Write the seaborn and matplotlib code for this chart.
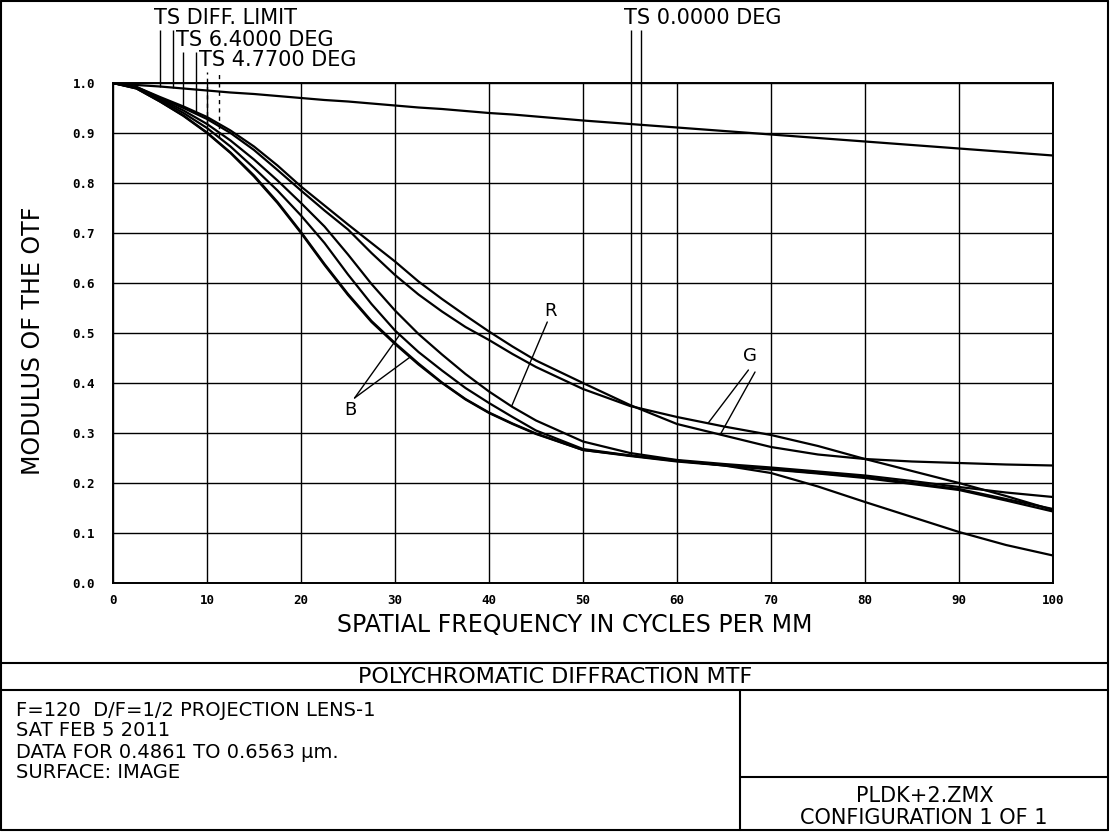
import numpy as np
import pandas as pd
import matplotlib
matplotlib.use("Agg")
import matplotlib.pyplot as plt
import seaborn as sns
from matplotlib.lines import Line2D

# ---------------- data ----------------
freq = [0, 2.5, 5, 7.5, 10, 12.5, 15, 17.5, 20, 22.5, 25, 27.5, 30, 32.5, 35, 37.5,
        40, 42.5, 45, 50, 55, 60, 65, 70, 75, 80, 85, 90, 95, 100]

diff_limit = [1.0, 0.996, 0.993, 0.989, 0.985, 0.981, 0.978, 0.974, 0.970, 0.966, 0.963,
              0.959, 0.955, 0.951, 0.948, 0.944, 0.940, 0.937, 0.933, 0.925, 0.918,
              0.911, 0.904, 0.897, 0.890, 0.883, 0.876, 0.869, 0.862, 0.855]

curve_g1 = [1.0, 0.992, 0.970, 0.950, 0.928, 0.900, 0.866, 0.826, 0.785, 0.745, 0.707,
            0.660, 0.616, 0.577, 0.543, 0.512, 0.486, 0.458, 0.432, 0.388, 0.354,
            0.332, 0.313, 0.296, 0.274, 0.248, 0.224, 0.200, 0.174, 0.146]

curve_g2 = [1.0, 0.992, 0.972, 0.953, 0.932, 0.905, 0.873, 0.835, 0.793, 0.755, 0.717,
            0.680, 0.643, 0.603, 0.568, 0.535, 0.503, 0.473, 0.445, 0.400, 0.356,
            0.318, 0.295, 0.272, 0.257, 0.248, 0.243, 0.240, 0.237, 0.235]

curve_r = [1.0, 0.991, 0.968, 0.945, 0.918, 0.885, 0.847, 0.805, 0.760, 0.713, 0.657,
           0.598, 0.545, 0.498, 0.457, 0.418, 0.383, 0.352, 0.325, 0.283, 0.260,
           0.246, 0.238, 0.231, 0.223, 0.215, 0.204, 0.192, 0.181, 0.172]

curve_b2 = [1.0, 0.990, 0.966, 0.940, 0.910, 0.873, 0.830, 0.785, 0.735, 0.680, 0.617,
            0.558, 0.505, 0.462, 0.425, 0.390, 0.360, 0.332, 0.305, 0.268, 0.255,
            0.244, 0.236, 0.228, 0.220, 0.212, 0.200, 0.188, 0.168, 0.148]

curve_b1 = [1.0, 0.989, 0.963, 0.934, 0.900, 0.860, 0.813, 0.760, 0.700, 0.636, 0.576,
            0.522, 0.478, 0.437, 0.400, 0.367, 0.340, 0.318, 0.298, 0.266, 0.255,
            0.245, 0.235, 0.220, 0.193, 0.162, 0.132, 0.102, 0.076, 0.055]

curve_b3 = [1.0, 0.989, 0.963, 0.935, 0.901, 0.861, 0.815, 0.762, 0.702, 0.638, 0.578,
            0.524, 0.480, 0.439, 0.401, 0.368, 0.341, 0.319, 0.299, 0.266, 0.254,
            0.243, 0.235, 0.227, 0.219, 0.210, 0.198, 0.186, 0.165, 0.143]

x_ticks = [0, 10, 20, 30, 40, 50, 60, 70, 80, 90, 100]
x_tick_labels = ["0", "10", "20", "30", "40", "50", "60", "70", "80", "90", "100"]
y_ticks = [0.0, 0.1, 0.2, 0.3, 0.4, 0.5, 0.6, 0.7, 0.8, 0.9, 1.0]
y_tick_labels = ["0.0", "0.1", "0.2", "0.3", "0.4", "0.5", "0.6", "0.7", "0.8", "0.9", "1.0"]

curves = {
    "DIFF": diff_limit,
    "G1": curve_g1, "G2": curve_g2, "R": curve_r,
    "B1": curve_b1, "B2": curve_b2, "B3": curve_b3,
}

df = pd.concat(
    [pd.DataFrame({"freq": freq, "mtf": vals, "curve": name}) for name, vals in curves.items()],
    ignore_index=True,
)

# ---------------- figure ----------------
sns.set_theme(style="white")
plt.rcParams["font.family"] = ["DejaVu Sans"]

W, H = 1110, 832
fig = plt.figure(figsize=(W / 100, H / 100), dpi=100)
fig.patch.set_facecolor("white")

def fx(px):
    return px / W

def fy(py):
    return 1 - py / H

ax = fig.add_axes([fx(113), fy(583), fx(1053) - fx(113), fy(83) - fy(583)])
ax.set_facecolor("white")

sns.lineplot(data=df, x="freq", y="mtf", units="curve", estimator=None,
             color="black", linewidth=1.6, ax=ax, legend=False, sort=False)

ax.set_xlim(0, 100)
ax.set_ylim(0, 1)
ax.set_xticks(x_ticks)
ax.set_xticklabels(x_tick_labels, family="DejaVu Sans Mono", fontweight="bold", fontsize=9)
ax.set_yticks(y_ticks)
ax.set_yticklabels(y_tick_labels, family="DejaVu Sans Mono", fontweight="bold", fontsize=9)
ax.tick_params(axis="x", length=0, pad=8, colors="black")
ax.tick_params(axis="y", length=0, pad=13, colors="black")
ax.grid(True, color="black", linewidth=1.0)
for sp in ax.spines.values():
    sp.set_color("black")
    sp.set_linewidth(1.4)
ax.set_xlabel("")
ax.set_ylabel("")

# axis titles
fig.text(fx(575), fy(625), "SPATIAL FREQUENCY IN CYCLES PER MM", ha="center", va="center",
         fontsize=17, color="black")
fig.text(fx(33), fy(341), "MODULUS OF THE OTF", ha="center", va="center", rotation=90,
         fontsize=17, color="black")

# ---------------- field legend (labels + leader lines) ----------------
fr = np.array(freq)

def leader(x, vals, top, dashed=False):
    y_end = float(np.interp(x, fr, vals))
    ax.vlines(x, y_end, top, colors="black", linewidth=1.0, clip_on=False,
              linestyles=(0, (3, 3)) if dashed else "solid")

leader(5.0, diff_limit, 1.106)
leader(6.4, diff_limit, 1.106)
leader(7.45, curve_g2, 1.062)
leader(8.83, curve_g1, 1.062)
leader(10.0, curve_r, 1.022, dashed=True)
leader(11.28, curve_b2, 1.022, dashed=True)
leader(55.1, curve_b1, 1.106)
leader(56.2, curve_b3, 1.106)

lab_kw = dict(ha="left", va="center", fontsize=15, color="black", clip_on=False)
ax.text(4.4, 1.131, "TS DIFF. LIMIT", **lab_kw)
ax.text(6.75, 1.087, "TS 6.4000 DEG", **lab_kw)
ax.text(9.2, 1.045, "TS 4.7700 DEG", **lab_kw)
ax.text(54.4, 1.131, "TS 0.0000 DEG", **lab_kw)

# ---------------- hand annotations B / R / G ----------------
ann_kw = dict(ha="center", va="center", fontsize=13, color="black")

ax.text(25.2, 0.346, "B", **ann_kw)
for x_end, vals in [(30.5, curve_b2), (31.6, curve_b1)]:
    ax.plot([25.7, x_end], [0.37, float(np.interp(x_end, fr, vals))], color="black", lw=1.0)

ax.text(46.5, 0.544, "R", **ann_kw)
ax.plot([46.2, 42.4], [0.522, float(np.interp(42.4, fr, curve_r))], color="black", lw=1.0)

ax.text(67.8, 0.454, "G", **ann_kw)
ax.plot([67.6, 63.3], [0.426, float(np.interp(63.3, fr, curve_g1))], color="black", lw=1.0)
ax.plot([68.3, 64.6], [0.422, float(np.interp(64.6, fr, curve_g2))], color="black", lw=1.0)

# ---------------- frame / title block ----------------
def fline(x0, y0, x1, y1, lw=1.5):
    fig.add_artist(Line2D([fx(x0), fx(x1)], [fy(y0), fy(y1)], transform=fig.transFigure,
                          color="black", linewidth=lw))

fline(1, 1, 1108, 1)
fline(1, 830, 1108, 830)
fline(1, 1, 1, 830)
fline(1108, 1, 1108, 830)
fline(1, 663, 1108, 663)
fline(1, 690, 1108, 690)
fline(740, 690, 740, 830)
fline(740, 777, 1108, 777)

fig.text(fx(555), fy(677), "POLYCHROMATIC DIFFRACTION MTF", ha="center", va="center",
         fontsize=16, color="black")

foot_kw = dict(ha="left", va="center", fontsize=14, color="black")
fig.text(fx(16), fy(711), "F=120  D/F=1/2 PROJECTION LENS-1", **foot_kw)
fig.text(fx(16), fy(731), "SAT FEB 5 2011", **foot_kw)
fig.text(fx(16), fy(752), "DATA FOR 0.4861 TO 0.6563 \u00b5m.", **foot_kw)
fig.text(fx(16), fy(772), "SURFACE: IMAGE", **foot_kw)

fig.text(fx(925), fy(796), "PLDK+2.ZMX", ha="center", va="center", fontsize=15, color="black")
fig.text(fx(924), fy(818), "CONFIGURATION 1 OF 1", ha="center", va="center", fontsize=15,
         color="black")

fig.savefig("out.png", dpi=100, facecolor="white")
